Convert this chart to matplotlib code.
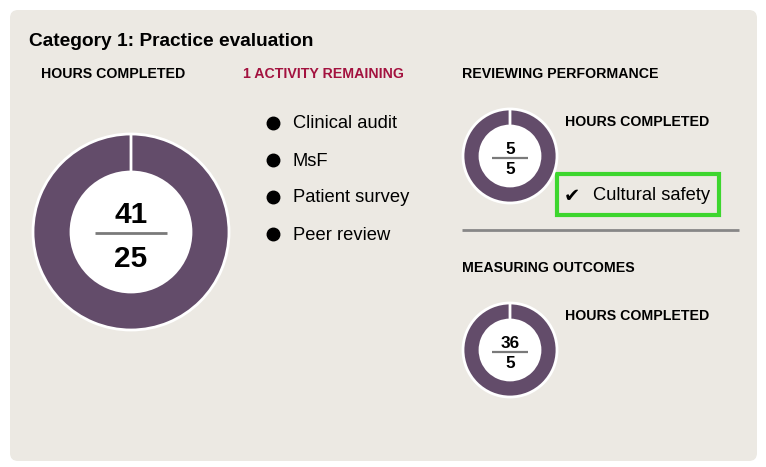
#progress dashboard - category 1 practice evaluation
#donut rings + text, all in pixel coords

import matplotlib.pyplot as plt
from matplotlib.patches import FancyBboxPatch, Circle, Rectangle

# data
ring_names = ["total", "reviewing", "measuring"]
hours_done = [41, 5, 36]
hours_needed = [25, 5, 5]
activities_left = ["Clinical audit", "MsF", "Patient survey", "Peer review"]
activities_done = ["Cultural safety"]
remaining_count = 1

# ring placement in pixels: centre x, centre y, outer r, inner r
ring_pos = [(131, 232, 98, 60), (510, 156, 47, 30), (510, 350, 47, 30)]

W, H = 766, 467
purple = "#634c6a"
bg = "#ece9e3"

fig = plt.figure(figsize=(W / 100, H / 100), dpi=100)
fig.patch.set_facecolor("white")
ax = fig.add_axes([0, 0, 1, 1])
ax.set_xlim(0, W)
ax.set_ylim(H, 0)
ax.axis("off")

font = "Liberation Sans"

# panel
ax.add_patch(FancyBboxPatch((10, 10), 747, 451, boxstyle="round,pad=0,rounding_size=8",
                            facecolor=bg, edgecolor="none"))

ax.text(29, 42, "Category 1: Practice evaluation", fontsize=13.8, fontweight="bold",
        family=font, va="center", ha="left")

head = dict(fontsize=10.2, fontweight="bold", family=font, va="center", ha="left")
ax.text(41, 74, "HOURS COMPLETED", **head)
ax.text(243, 74, f"{remaining_count} ACTIVITY REMAINING", color="#a3123f", **head)
ax.text(462, 74, "REVIEWING PERFORMANCE", **head)
ax.text(565, 122, "HOURS COMPLETED", **head)
ax.text(462, 268, "MEASURING OUTCOMES", **head)
ax.text(565, 316, "HOURS COMPLETED", **head)

# remaining activities list
for i, name in enumerate(activities_left):
    y = 122 + i * 37
    ax.plot(273, y + 1, "o", color="black", markersize=9)
    ax.text(293, y + 2, name, fontsize=13.2, family=font, va="center", ha="left")

# completed activity box
ax.add_patch(Rectangle((557, 174), 162, 41, facecolor="none", edgecolor="#3dd62e", linewidth=3))
ax.text(572, 196, "\u2714", fontsize=14, family="DejaVu Sans", va="center", ha="center")
ax.text(593, 195, activities_done[0], fontsize=13.2, family=font, va="center", ha="left")

# divider
ax.plot([462, 739], [230, 230], color="#878787", linewidth=2, solid_capstyle="butt")

# donuts
for (cx, cy, r, rin), done, need in zip(ring_pos, hours_done, hours_needed):
    pad = r + 2
    dax = fig.add_axes([(cx - pad) / W, 1 - (cy + pad) / H, 2 * pad / W, 2 * pad / H])
    dax.pie([done, max(need - done, 0)], radius=r, startangle=90, counterclock=False,
            colors=[purple, "#d9d4dc"],
            wedgeprops=dict(width=r - rin, edgecolor="white", linewidth=2))
    dax.add_patch(Circle((0, 0), rin, facecolor="white", edgecolor="none", zorder=5))
    dax.set_xlim(-pad, pad)
    dax.set_ylim(-pad, pad)
    dax.axis("off")

    if r > 60:
        fs, top, bot, line_y, half, lw = 21.5, 9, -35, -1, 36, 2
    else:
        fs, top, bot, line_y, half, lw = 12.3, 2, -17.5, -1.5, 18, 1.6
    dax.text(0, top, str(done), fontsize=fs, fontweight="bold", family=font,
             ha="center", va="baseline", zorder=6)
    dax.text(0, bot, str(need), fontsize=fs, fontweight="bold", family=font,
             ha="center", va="baseline", zorder=6)
    dax.plot([-half, half], [line_y, line_y], color="#7a7a7a", linewidth=lw, zorder=6,
             solid_capstyle="butt")

plt.savefig("out.png", dpi=100)
